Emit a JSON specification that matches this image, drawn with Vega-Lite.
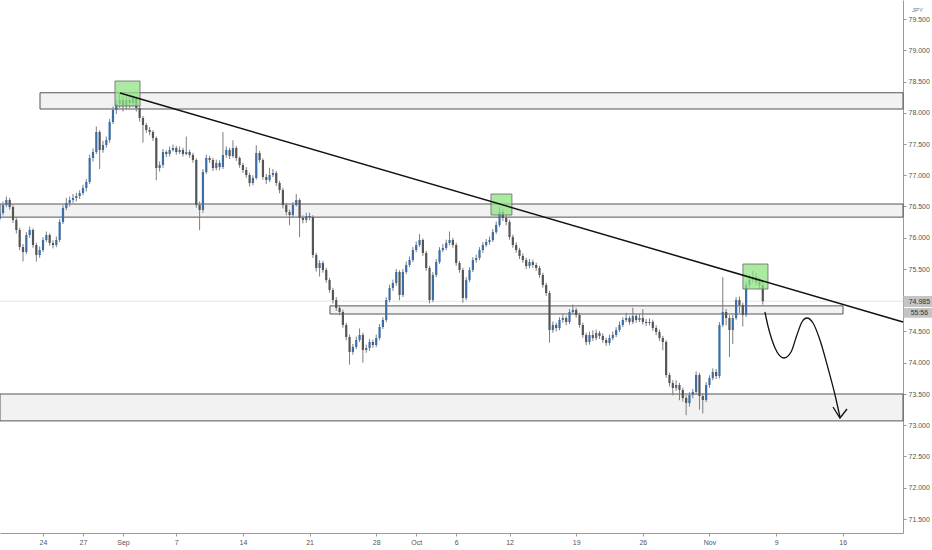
{
  "$schema": "https://vega.github.io/schema/vega-lite/v6.json",
  "width": 903,
  "height": 533,
  "autosize": {"type": "none"},
  "padding": {"left": 0, "top": 0, "right": 29, "bottom": 17},
  "background": "white",
  "config": {
    "view": {"stroke": null},
    "font": "Liberation Sans",
    "scale": {"continuousPadding": 0},
    "axis": {"grid": false, "labelFontSize": 7, "labelColor": "#555555", "tickColor": "#999999", "domainColor": "#999999", "tickSize": 3, "labelPadding": 2}
  },
  "datasets": {
    "zones": [
      {"x1": -0.225, "x2": 64.52, "y1": 78.06, "y2": 78.32},
      {"x1": -3.226, "x2": 64.52, "y1": 76.33, "y2": 76.54},
      {"x1": 21.53, "x2": 60.02, "y1": 74.78, "y2": 74.91},
      {"x1": -3.226, "x2": 64.52, "y1": 73.07, "y2": 73.5}
    ],
    "boxes": [
      {"x1": 5.4, "x2": 7.28, "y1": 78.108, "y2": 78.508},
      {"x1": 33.61, "x2": 35.18, "y1": 76.364, "y2": 76.7},
      {"x1": 52.51, "x2": 54.39, "y1": 75.18, "y2": 75.58}
    ],
    "trend": [
      {"t": 5.776, "p": 78.316},
      {"t": 64.52, "p": 74.652}
    ],
    "path": [
      {"t": 54.16, "p": 74.812},
      {"t": 54.39, "p": 74.588},
      {"t": 54.69, "p": 74.364},
      {"t": 55.07, "p": 74.172},
      {"t": 55.59, "p": 74.076},
      {"t": 56.12, "p": 74.172},
      {"t": 56.56, "p": 74.444},
      {"t": 56.94, "p": 74.652},
      {"t": 57.31, "p": 74.716},
      {"t": 57.77, "p": 74.636},
      {"t": 58.29, "p": 74.364},
      {"t": 58.89, "p": 73.916},
      {"t": 59.42, "p": 73.484},
      {"t": 59.79, "p": 73.132}
    ],
    "head": [
      {"t": 59.27, "p": 73.292},
      {"t": 59.79, "p": 73.116},
      {"t": 60.32, "p": 73.26}
    ],
    "last": [
      {"x1": 64.56, "x2": 66.95, "y1": 74.892, "y2": 75.068, "tx": 65.75, "ty": 74.98, "label": "74.985"},
      {"x1": 64.56, "x2": 66.95, "y1": 74.72, "y2": 74.876, "tx": 65.75, "ty": 74.798, "label": "55:56"}
    ],
    "candles": [
      {"t": -3.25, "o": 76.3, "h": 76.44, "l": 76.26, "c": 76.396},
      {"t": -3.0, "o": 76.396, "h": 76.58, "l": 76.36, "c": 76.524},
      {"t": -2.75, "o": 76.524, "h": 76.66, "l": 76.49, "c": 76.604},
      {"t": -2.5, "o": 76.604, "h": 76.64, "l": 76.45, "c": 76.492},
      {"t": -2.25, "o": 76.492, "h": 76.52, "l": 76.24, "c": 76.284},
      {"t": -2.0, "o": 76.284, "h": 76.32, "l": 76.07, "c": 76.124},
      {"t": -1.75, "o": 76.124, "h": 76.16, "l": 75.8, "c": 75.852},
      {"t": -1.5, "o": 75.852, "h": 75.9, "l": 75.62, "c": 75.772},
      {"t": -1.25, "o": 75.772, "h": 76.09, "l": 75.74, "c": 76.044},
      {"t": -1.0, "o": 76.044, "h": 76.18, "l": 76.0, "c": 76.124},
      {"t": -0.75, "o": 76.124, "h": 76.15, "l": 75.84, "c": 75.884},
      {"t": -0.5, "o": 75.884, "h": 75.92, "l": 75.62, "c": 75.724},
      {"t": -0.25, "o": 75.724, "h": 75.86, "l": 75.68, "c": 75.804},
      {"t": 0.0, "o": 75.804, "h": 76.01, "l": 75.77, "c": 75.964},
      {"t": 0.25, "o": 75.964, "h": 76.1, "l": 75.93, "c": 76.044},
      {"t": 0.5, "o": 76.044, "h": 76.07, "l": 75.87, "c": 75.916},
      {"t": 0.75, "o": 75.916, "h": 75.96, "l": 75.83, "c": 75.884},
      {"t": 1.0, "o": 75.884, "h": 76.02, "l": 75.85, "c": 75.964},
      {"t": 1.25, "o": 75.964, "h": 76.3, "l": 75.93, "c": 76.252},
      {"t": 1.5, "o": 76.252, "h": 76.52, "l": 76.22, "c": 76.476},
      {"t": 1.75, "o": 76.476, "h": 76.64, "l": 76.44, "c": 76.556},
      {"t": 2.0, "o": 76.556, "h": 76.66, "l": 76.5, "c": 76.604},
      {"t": 2.25, "o": 76.604, "h": 76.7, "l": 76.56, "c": 76.636},
      {"t": 2.5, "o": 76.636, "h": 76.72, "l": 76.58, "c": 76.668},
      {"t": 2.75, "o": 76.668, "h": 76.76, "l": 76.62, "c": 76.716},
      {"t": 3.0, "o": 76.716, "h": 76.85, "l": 76.68, "c": 76.796},
      {"t": 3.25, "o": 76.796, "h": 76.94, "l": 76.74, "c": 76.892},
      {"t": 3.5, "o": 76.892, "h": 77.33, "l": 76.86, "c": 77.276},
      {"t": 3.75, "o": 77.276, "h": 77.43, "l": 77.22, "c": 77.372},
      {"t": 4.0, "o": 77.372, "h": 77.78, "l": 77.34, "c": 77.692},
      {"t": 4.25, "o": 77.692, "h": 77.72, "l": 77.1, "c": 77.404},
      {"t": 4.5, "o": 77.404, "h": 77.55, "l": 77.36, "c": 77.484},
      {"t": 4.75, "o": 77.484, "h": 77.62, "l": 77.44, "c": 77.564},
      {"t": 5.0, "o": 77.564, "h": 77.9, "l": 77.52, "c": 77.852},
      {"t": 5.25, "o": 77.852, "h": 78.1, "l": 77.82, "c": 78.044},
      {"t": 5.5, "o": 78.044, "h": 78.2, "l": 77.98, "c": 78.14},
      {"t": 5.75, "o": 78.14, "h": 78.32, "l": 78.08, "c": 78.204},
      {"t": 6.0, "o": 78.204, "h": 78.26, "l": 78.02, "c": 78.108},
      {"t": 6.25, "o": 78.108, "h": 78.27, "l": 78.06, "c": 78.204},
      {"t": 6.5, "o": 78.204, "h": 78.25, "l": 78.08, "c": 78.156},
      {"t": 6.75, "o": 78.156, "h": 78.28, "l": 78.1, "c": 78.236},
      {"t": 7.0, "o": 78.236, "h": 78.26, "l": 78.02, "c": 78.076},
      {"t": 7.25, "o": 78.076, "h": 78.11, "l": 77.86, "c": 77.916},
      {"t": 7.5, "o": 77.916, "h": 77.95, "l": 77.52, "c": 77.804},
      {"t": 7.75, "o": 77.804, "h": 77.84, "l": 77.68, "c": 77.724},
      {"t": 8.0, "o": 77.724, "h": 77.77, "l": 77.64, "c": 77.692},
      {"t": 8.25, "o": 77.692, "h": 77.72, "l": 77.55, "c": 77.596},
      {"t": 8.5, "o": 77.596, "h": 77.62, "l": 76.92, "c": 77.116},
      {"t": 8.75, "o": 77.116, "h": 77.22, "l": 77.06, "c": 77.164},
      {"t": 9.0, "o": 77.164, "h": 77.42, "l": 77.12, "c": 77.372},
      {"t": 9.25, "o": 77.372, "h": 77.4, "l": 77.29, "c": 77.34},
      {"t": 9.5, "o": 77.34, "h": 77.46, "l": 77.3, "c": 77.404},
      {"t": 9.75, "o": 77.404, "h": 77.49, "l": 77.38, "c": 77.436},
      {"t": 10.0, "o": 77.436, "h": 77.47, "l": 77.33, "c": 77.372},
      {"t": 10.25, "o": 77.372, "h": 77.46, "l": 77.34, "c": 77.404},
      {"t": 10.5, "o": 77.404, "h": 77.44, "l": 77.3, "c": 77.34},
      {"t": 10.75, "o": 77.34, "h": 77.62, "l": 77.32, "c": 77.372},
      {"t": 11.0, "o": 77.372, "h": 77.41, "l": 77.28, "c": 77.324},
      {"t": 11.25, "o": 77.324, "h": 77.36, "l": 77.2, "c": 77.244},
      {"t": 11.5, "o": 77.244, "h": 77.27, "l": 76.48, "c": 76.524},
      {"t": 11.75, "o": 76.524, "h": 76.58, "l": 76.12, "c": 76.444},
      {"t": 12.0, "o": 76.444, "h": 77.1, "l": 76.4, "c": 77.052},
      {"t": 12.25, "o": 77.052, "h": 77.33, "l": 77.02, "c": 77.276},
      {"t": 12.5, "o": 77.276, "h": 77.31, "l": 77.2, "c": 77.244},
      {"t": 12.75, "o": 77.244, "h": 77.28, "l": 77.07, "c": 77.116},
      {"t": 13.0, "o": 77.116, "h": 77.25, "l": 77.08, "c": 77.196},
      {"t": 13.25, "o": 77.196, "h": 77.24, "l": 77.08, "c": 77.132},
      {"t": 13.5, "o": 77.132, "h": 77.69, "l": 77.1, "c": 77.324},
      {"t": 13.75, "o": 77.324, "h": 77.46, "l": 77.28, "c": 77.404},
      {"t": 14.0, "o": 77.404, "h": 77.44, "l": 77.26, "c": 77.308},
      {"t": 14.25, "o": 77.308, "h": 77.56, "l": 77.28, "c": 77.436},
      {"t": 14.5, "o": 77.436, "h": 77.47, "l": 77.23, "c": 77.276},
      {"t": 14.75, "o": 77.276, "h": 77.3, "l": 77.12, "c": 77.164},
      {"t": 15.0, "o": 77.164, "h": 77.2, "l": 77.04, "c": 77.084},
      {"t": 15.25, "o": 77.084, "h": 77.13, "l": 76.96, "c": 77.004},
      {"t": 15.5, "o": 77.004, "h": 77.04, "l": 76.82, "c": 76.876},
      {"t": 15.75, "o": 76.876, "h": 77.0, "l": 76.84, "c": 76.956},
      {"t": 16.0, "o": 76.956, "h": 77.48, "l": 76.93, "c": 77.356},
      {"t": 16.25, "o": 77.356, "h": 77.39, "l": 77.2, "c": 77.244},
      {"t": 16.5, "o": 77.244, "h": 77.27, "l": 76.93, "c": 76.972},
      {"t": 16.75, "o": 76.972, "h": 77.02, "l": 76.86, "c": 76.924},
      {"t": 17.0, "o": 76.924, "h": 77.12, "l": 76.89, "c": 77.004},
      {"t": 17.25, "o": 77.004, "h": 77.1, "l": 76.97, "c": 77.036},
      {"t": 17.5, "o": 77.036, "h": 77.07, "l": 76.83, "c": 76.876},
      {"t": 17.75, "o": 76.876, "h": 76.91, "l": 76.71, "c": 76.764},
      {"t": 18.0, "o": 76.764, "h": 76.8, "l": 76.47, "c": 76.524},
      {"t": 18.25, "o": 76.524, "h": 76.56, "l": 76.36, "c": 76.412},
      {"t": 18.5, "o": 76.412, "h": 76.45, "l": 76.2, "c": 76.364},
      {"t": 18.75, "o": 76.364, "h": 76.57, "l": 76.33, "c": 76.524},
      {"t": 19.0, "o": 76.524, "h": 76.7, "l": 76.5, "c": 76.604},
      {"t": 19.25, "o": 76.604, "h": 76.63, "l": 76.01, "c": 76.316},
      {"t": 19.5, "o": 76.316, "h": 76.36, "l": 76.23, "c": 76.284},
      {"t": 19.75, "o": 76.284, "h": 76.4, "l": 76.24, "c": 76.348},
      {"t": 20.0, "o": 76.348, "h": 76.4, "l": 76.28, "c": 76.332},
      {"t": 20.25, "o": 76.332, "h": 76.36, "l": 75.68, "c": 75.724},
      {"t": 20.5, "o": 75.724, "h": 75.76, "l": 75.46, "c": 75.516},
      {"t": 20.75, "o": 75.516, "h": 75.64, "l": 75.38, "c": 75.596},
      {"t": 21.0, "o": 75.596, "h": 75.63, "l": 75.44, "c": 75.484},
      {"t": 21.25, "o": 75.484, "h": 75.52, "l": 75.28, "c": 75.324},
      {"t": 21.5, "o": 75.324, "h": 75.36, "l": 75.12, "c": 75.164},
      {"t": 21.75, "o": 75.164, "h": 75.2, "l": 74.95, "c": 75.004},
      {"t": 22.0, "o": 75.004, "h": 75.05, "l": 74.83, "c": 74.876},
      {"t": 22.25, "o": 74.876, "h": 74.92, "l": 74.76, "c": 74.812},
      {"t": 22.5, "o": 74.812, "h": 74.85, "l": 74.56, "c": 74.604},
      {"t": 22.75, "o": 74.604, "h": 74.64, "l": 74.36, "c": 74.412},
      {"t": 23.0, "o": 74.412, "h": 74.45, "l": 73.97, "c": 74.172},
      {"t": 23.25, "o": 74.172, "h": 74.3, "l": 74.13, "c": 74.252},
      {"t": 23.5, "o": 74.252, "h": 74.42, "l": 74.22, "c": 74.364},
      {"t": 23.75, "o": 74.364, "h": 74.55, "l": 74.33, "c": 74.444},
      {"t": 24.0, "o": 74.444, "h": 74.48, "l": 74.0, "c": 74.204},
      {"t": 24.25, "o": 74.204, "h": 74.29, "l": 74.16, "c": 74.236},
      {"t": 24.5, "o": 74.236, "h": 74.38, "l": 74.19, "c": 74.332},
      {"t": 24.75, "o": 74.332, "h": 74.37, "l": 74.24, "c": 74.284},
      {"t": 25.0, "o": 74.284, "h": 74.45, "l": 74.25, "c": 74.396},
      {"t": 25.25, "o": 74.396, "h": 74.62, "l": 74.36, "c": 74.572},
      {"t": 25.5, "o": 74.572, "h": 74.73, "l": 74.54, "c": 74.684},
      {"t": 25.75, "o": 74.684, "h": 75.05, "l": 74.65, "c": 75.004},
      {"t": 26.0, "o": 75.004, "h": 75.25, "l": 74.97, "c": 75.196},
      {"t": 26.25, "o": 75.196, "h": 75.33, "l": 75.15, "c": 75.276},
      {"t": 26.5, "o": 75.276, "h": 75.5, "l": 75.23, "c": 75.452},
      {"t": 26.75, "o": 75.452, "h": 75.48, "l": 75.0, "c": 75.084},
      {"t": 27.0, "o": 75.084, "h": 75.5, "l": 75.05, "c": 75.452},
      {"t": 27.25, "o": 75.452, "h": 75.62, "l": 75.42, "c": 75.564},
      {"t": 27.5, "o": 75.564, "h": 75.7, "l": 75.53, "c": 75.644},
      {"t": 27.75, "o": 75.644, "h": 75.85, "l": 75.61, "c": 75.804},
      {"t": 28.0, "o": 75.804, "h": 75.94, "l": 75.77, "c": 75.884},
      {"t": 28.25, "o": 75.884, "h": 76.06, "l": 75.85, "c": 75.964},
      {"t": 28.5, "o": 75.964, "h": 75.99, "l": 75.71, "c": 75.756},
      {"t": 28.75, "o": 75.756, "h": 75.79, "l": 75.47, "c": 75.516},
      {"t": 29.0, "o": 75.516, "h": 75.55, "l": 74.95, "c": 75.004},
      {"t": 29.25, "o": 75.004, "h": 75.45, "l": 74.97, "c": 75.404},
      {"t": 29.5, "o": 75.404, "h": 75.66, "l": 75.37, "c": 75.612},
      {"t": 29.75, "o": 75.612, "h": 75.85, "l": 75.58, "c": 75.804},
      {"t": 30.0, "o": 75.804, "h": 75.9, "l": 75.77, "c": 75.836},
      {"t": 30.25, "o": 75.836, "h": 75.97, "l": 75.8, "c": 75.916},
      {"t": 30.5, "o": 75.916, "h": 76.1, "l": 75.88, "c": 75.964},
      {"t": 30.75, "o": 75.964, "h": 76.0, "l": 75.84, "c": 75.884},
      {"t": 31.0, "o": 75.884, "h": 75.92, "l": 75.55, "c": 75.596},
      {"t": 31.25, "o": 75.596, "h": 75.63, "l": 75.44, "c": 75.484},
      {"t": 31.5, "o": 75.484, "h": 75.52, "l": 74.96, "c": 75.036},
      {"t": 31.75, "o": 75.036, "h": 75.37, "l": 75.0, "c": 75.324},
      {"t": 32.0, "o": 75.324, "h": 75.53, "l": 75.29, "c": 75.484},
      {"t": 32.25, "o": 75.484, "h": 75.69, "l": 75.45, "c": 75.644},
      {"t": 32.5, "o": 75.644, "h": 75.73, "l": 75.6, "c": 75.676},
      {"t": 32.75, "o": 75.676, "h": 75.85, "l": 75.64, "c": 75.804},
      {"t": 33.0, "o": 75.804, "h": 75.93, "l": 75.76, "c": 75.884},
      {"t": 33.25, "o": 75.884, "h": 75.98, "l": 75.85, "c": 75.932},
      {"t": 33.5, "o": 75.932, "h": 76.02, "l": 75.89, "c": 75.964},
      {"t": 33.75, "o": 75.964, "h": 76.14, "l": 75.93, "c": 76.092},
      {"t": 34.0, "o": 76.092, "h": 76.26, "l": 76.06, "c": 76.204},
      {"t": 34.25, "o": 76.204, "h": 76.5, "l": 76.17, "c": 76.412},
      {"t": 34.5, "o": 76.412, "h": 76.45, "l": 76.27, "c": 76.316},
      {"t": 34.75, "o": 76.316, "h": 76.36, "l": 76.2, "c": 76.252},
      {"t": 35.0, "o": 76.252, "h": 76.29, "l": 75.97, "c": 76.012},
      {"t": 35.25, "o": 76.012, "h": 76.05, "l": 75.84, "c": 75.884},
      {"t": 35.5, "o": 75.884, "h": 75.93, "l": 75.76, "c": 75.804},
      {"t": 35.75, "o": 75.804, "h": 75.84, "l": 75.66, "c": 75.708},
      {"t": 36.0, "o": 75.708, "h": 75.75, "l": 75.6, "c": 75.644},
      {"t": 36.25, "o": 75.644, "h": 75.68, "l": 75.5, "c": 75.548},
      {"t": 36.5, "o": 75.548, "h": 75.66, "l": 75.51, "c": 75.612},
      {"t": 36.75, "o": 75.612, "h": 75.65, "l": 75.52, "c": 75.564},
      {"t": 37.0, "o": 75.564, "h": 75.6, "l": 75.47, "c": 75.516},
      {"t": 37.25, "o": 75.516, "h": 75.55, "l": 75.36, "c": 75.404},
      {"t": 37.5, "o": 75.404, "h": 75.44, "l": 75.2, "c": 75.244},
      {"t": 37.75, "o": 75.244, "h": 75.28, "l": 75.07, "c": 75.116},
      {"t": 38.0, "o": 75.116, "h": 75.15, "l": 74.32, "c": 74.524},
      {"t": 38.25, "o": 74.524, "h": 74.66, "l": 74.48, "c": 74.604},
      {"t": 38.5, "o": 74.604, "h": 74.64, "l": 74.5, "c": 74.556},
      {"t": 38.75, "o": 74.556, "h": 74.73, "l": 74.52, "c": 74.684},
      {"t": 39.0, "o": 74.684, "h": 74.77, "l": 74.64, "c": 74.716},
      {"t": 39.25, "o": 74.716, "h": 74.75, "l": 74.6, "c": 74.652},
      {"t": 39.5, "o": 74.652, "h": 74.86, "l": 74.62, "c": 74.812},
      {"t": 39.75, "o": 74.812, "h": 74.93, "l": 74.78, "c": 74.844},
      {"t": 40.0, "o": 74.844, "h": 74.88, "l": 74.72, "c": 74.764},
      {"t": 40.25, "o": 74.764, "h": 74.8, "l": 74.56, "c": 74.604},
      {"t": 40.5, "o": 74.604, "h": 74.64, "l": 74.4, "c": 74.444},
      {"t": 40.75, "o": 74.444, "h": 74.48, "l": 74.28, "c": 74.332},
      {"t": 41.0, "o": 74.332, "h": 74.5, "l": 74.29, "c": 74.444},
      {"t": 41.25, "o": 74.444, "h": 74.52, "l": 74.35, "c": 74.396},
      {"t": 41.5, "o": 74.396, "h": 74.53, "l": 74.36, "c": 74.476},
      {"t": 41.75, "o": 74.476, "h": 74.51, "l": 74.38, "c": 74.428},
      {"t": 42.0, "o": 74.428, "h": 74.47, "l": 74.32, "c": 74.364},
      {"t": 42.25, "o": 74.364, "h": 74.4, "l": 74.27, "c": 74.316},
      {"t": 42.5, "o": 74.316, "h": 74.45, "l": 74.28, "c": 74.396},
      {"t": 42.75, "o": 74.396, "h": 74.5, "l": 74.36, "c": 74.444},
      {"t": 43.0, "o": 74.444, "h": 74.57, "l": 74.41, "c": 74.524},
      {"t": 43.25, "o": 74.524, "h": 74.66, "l": 74.49, "c": 74.604},
      {"t": 43.5, "o": 74.604, "h": 74.73, "l": 74.57, "c": 74.684},
      {"t": 43.75, "o": 74.684, "h": 74.8, "l": 74.65, "c": 74.716},
      {"t": 44.0, "o": 74.716, "h": 74.75, "l": 74.61, "c": 74.652},
      {"t": 44.25, "o": 74.652, "h": 74.88, "l": 74.62, "c": 74.748},
      {"t": 44.5, "o": 74.748, "h": 74.78, "l": 74.64, "c": 74.684},
      {"t": 44.75, "o": 74.684, "h": 74.78, "l": 74.65, "c": 74.716},
      {"t": 45.0, "o": 74.716, "h": 74.86, "l": 74.61, "c": 74.652},
      {"t": 45.25, "o": 74.652, "h": 74.7, "l": 74.59, "c": 74.636},
      {"t": 45.5, "o": 74.636, "h": 74.71, "l": 74.6, "c": 74.652},
      {"t": 45.75, "o": 74.652, "h": 74.69, "l": 74.51, "c": 74.556},
      {"t": 46.0, "o": 74.556, "h": 74.6, "l": 74.44, "c": 74.492},
      {"t": 46.25, "o": 74.492, "h": 74.53, "l": 74.35, "c": 74.396},
      {"t": 46.5, "o": 74.396, "h": 74.43, "l": 74.2, "c": 74.332},
      {"t": 46.75, "o": 74.332, "h": 74.36, "l": 73.76, "c": 73.804},
      {"t": 47.0, "o": 73.804, "h": 73.84, "l": 73.62, "c": 73.676},
      {"t": 47.25, "o": 73.676, "h": 73.72, "l": 73.48, "c": 73.596},
      {"t": 47.5, "o": 73.596, "h": 73.72, "l": 73.55, "c": 73.644},
      {"t": 47.75, "o": 73.644, "h": 73.68, "l": 73.4, "c": 73.564},
      {"t": 48.0, "o": 73.564, "h": 73.6, "l": 73.38, "c": 73.436},
      {"t": 48.25, "o": 73.436, "h": 73.48, "l": 73.16, "c": 73.356},
      {"t": 48.5, "o": 73.356, "h": 73.53, "l": 73.3, "c": 73.484},
      {"t": 48.75, "o": 73.484, "h": 73.58, "l": 73.43, "c": 73.532},
      {"t": 49.0, "o": 73.532, "h": 73.86, "l": 73.49, "c": 73.804},
      {"t": 49.25, "o": 73.804, "h": 73.84, "l": 73.25, "c": 73.468},
      {"t": 49.5, "o": 73.468, "h": 73.51, "l": 73.19, "c": 73.404},
      {"t": 49.75, "o": 73.404, "h": 73.69, "l": 73.37, "c": 73.644},
      {"t": 50.0, "o": 73.644, "h": 73.8, "l": 73.6, "c": 73.756},
      {"t": 50.25, "o": 73.756, "h": 73.91, "l": 73.72, "c": 73.852},
      {"t": 50.5, "o": 73.852, "h": 73.9, "l": 73.74, "c": 73.788},
      {"t": 50.75, "o": 73.788, "h": 74.65, "l": 73.75, "c": 74.604},
      {"t": 51.0, "o": 74.604, "h": 75.37, "l": 74.57, "c": 74.812},
      {"t": 51.25, "o": 74.812, "h": 74.86, "l": 74.6, "c": 74.716},
      {"t": 51.5, "o": 74.716, "h": 74.76, "l": 74.09, "c": 74.524},
      {"t": 51.75, "o": 74.524, "h": 74.77, "l": 74.3, "c": 74.716},
      {"t": 52.0, "o": 74.716, "h": 75.05, "l": 74.68, "c": 75.004},
      {"t": 52.25, "o": 75.004, "h": 75.06, "l": 74.8, "c": 74.924},
      {"t": 52.5, "o": 74.924, "h": 74.96, "l": 74.58, "c": 74.764},
      {"t": 52.75, "o": 74.764, "h": 75.29, "l": 74.73, "c": 75.244},
      {"t": 53.0, "o": 75.244, "h": 75.4, "l": 75.2, "c": 75.324},
      {"t": 53.25, "o": 75.324, "h": 75.47, "l": 75.28, "c": 75.372},
      {"t": 53.5, "o": 75.372, "h": 75.44, "l": 75.24, "c": 75.292},
      {"t": 53.75, "o": 75.292, "h": 75.36, "l": 75.18, "c": 75.244},
      {"t": 54.0, "o": 75.244, "h": 75.3, "l": 74.93, "c": 74.985}
    ]
  },
  "encoding": {
    "x": {
      "type": "quantitative", "title": null,
      "scale": {"domain": [-3.226, 64.52], "nice": false, "zero": false, "padding": 0},
      "axis": {
        "orient": "bottom",
        "values": [0, 3, 6, 10, 15, 20, 25, 28, 31, 35, 40, 45, 50, 55, 60],
        "labelExpr": "['24','27','Sep','7','14','21','28','Oct','6','12','19','26','Nov','9','16'][indexof([0,3,6,10,15,20,25,28,31,35,40,45,50,55,60], datum.value)]"
      }
    },
    "y": {
      "type": "quantitative", "title": null,
      "scale": {"domain": [71.276, 79.804], "nice": false, "zero": false, "padding": 0},
      "axis": {
        "orient": "right",
        "values": [71.5, 72, 72.5, 73, 73.5, 74, 74.5, 75, 75.5, 76, 76.5, 77, 77.5, 78, 78.5, 79, 79.5],
        "format": ".3f",
        "title": "JPY", "titleAngle": 0, "titleFontSize": 6, "titleFontWeight": "normal", "titleColor": "#777777",
        "titleX": 14, "titleY": 9, "titleAlign": "center", "titleBaseline": "middle"
      }
    }
  },
  "layer": [
    {
      "data": {"name": "zones"},
      "mark": {"type": "rect", "fill": "#f2f2f2", "stroke": "#555555", "strokeWidth": 1},
      "encoding": {
        "x": {"field": "x1"},
        "x2": {"field": "x2"},
        "y": {"field": "y1"},
        "y2": {"field": "y2"}
      }
    },
    {
      "data": {"values": [{"p": 74.985}]},
      "mark": {"type": "rule", "color": "#e4e4e4", "strokeWidth": 1},
      "encoding": {"y": {"field": "p"}}
    },
    {
      "data": {"name": "candles"},
      "mark": {"type": "rule", "color": "#7d7d7d", "strokeWidth": 1},
      "encoding": {
        "x": {"field": "t"},
        "y": {"field": "l"},
        "y2": {"field": "h"}
      }
    },
    {
      "data": {"name": "candles"},
      "mark": {"type": "bar", "width": 2.2},
      "encoding": {
        "x": {"field": "t"},
        "y": {"field": "o"},
        "y2": {"field": "c"},
        "color": {"condition": {"test": "datum.c >= datum.o", "value": "#3b6ea8"}, "value": "#555555"}
      }
    },
    {
      "data": {"name": "boxes"},
      "mark": {"type": "rect", "fill": "#8fe381", "fillOpacity": 0.75, "stroke": "#666666", "strokeWidth": 0.8},
      "encoding": {
        "x": {"field": "x1"},
        "x2": {"field": "x2"},
        "y": {"field": "y1"},
        "y2": {"field": "y2"}
      }
    },
    {
      "data": {"name": "trend"},
      "mark": {"type": "line", "color": "#111111", "strokeWidth": 1.5},
      "encoding": {"x": {"field": "t"}, "y": {"field": "p"}}
    },
    {
      "data": {"name": "path"},
      "mark": {"type": "line", "color": "#111111", "strokeWidth": 1.3, "interpolate": "monotone"},
      "encoding": {"x": {"field": "t"}, "y": {"field": "p"}}
    },
    {
      "data": {"name": "head"},
      "mark": {"type": "line", "color": "#111111", "strokeWidth": 1.3},
      "encoding": {"x": {"field": "t"}, "y": {"field": "p"}}
    },
    {
      "data": {"name": "last"},
      "mark": {"type": "rect", "fill": "#c4c4c4"},
      "encoding": {
        "x": {"field": "x1"},
        "x2": {"field": "x2"},
        "y": {"field": "y1"},
        "y2": {"field": "y2"}
      }
    },
    {
      "data": {"name": "last"},
      "mark": {"type": "text", "fontSize": 7, "color": "#333333", "align": "center", "baseline": "middle"},
      "encoding": {
        "x": {"field": "tx"},
        "y": {"field": "ty"},
        "text": {"field": "label"}
      }
    }
  ]
}
